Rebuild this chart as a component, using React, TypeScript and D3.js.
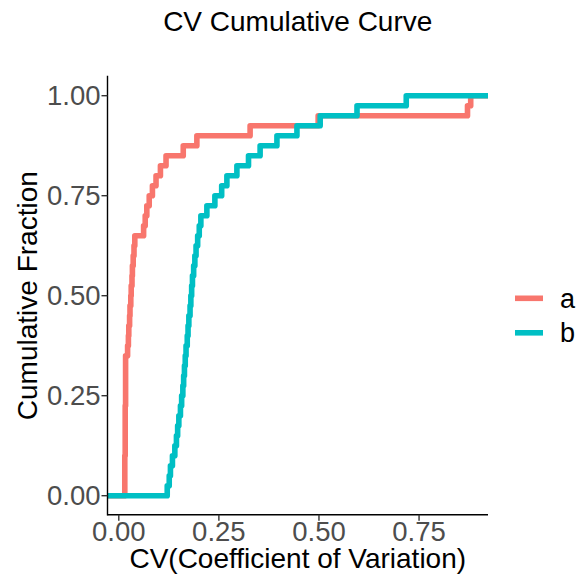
import React from "react";
import * as d3 from "d3";

const seriesNames = ["a", "b"];
const seriesColors = ["#F8766D", "#00BFC4"];

const valuesA = [
  0.015, 0.015, 0.015, 0.015, 0.016, 0.016, 0.016, 0.016, 0.016, 0.017,
  0.017, 0.017, 0.017, 0.017, 0.022, 0.024, 0.025, 0.027, 0.028, 0.03,
  0.031, 0.033, 0.034, 0.036, 0.038, 0.04, 0.062, 0.066, 0.07, 0.076,
  0.084, 0.093, 0.104, 0.118, 0.161, 0.195, 0.328, 0.498, 0.871, 0.879,
];

const valuesB = [
  0.121, 0.126, 0.129, 0.134, 0.14, 0.144, 0.147, 0.15, 0.154, 0.157,
  0.16, 0.162, 0.164, 0.166, 0.168, 0.171, 0.173, 0.175, 0.178, 0.18,
  0.182, 0.184, 0.187, 0.19, 0.193, 0.197, 0.201, 0.205, 0.22, 0.24,
  0.257, 0.27, 0.295, 0.324, 0.353, 0.395, 0.445, 0.503, 0.595, 0.718,
];

const xTicks = [0, 0.25, 0.5, 0.75];
const yTicks = [0, 0.25, 0.5, 0.75, 1];

const W = 580;
const H = 577;
const FONT = "'Liberation Sans', Arial, Helvetica, sans-serif";

export default function App() {
  const panel = { left: 107.5, right: 488, top: 75.7, bottom: 515.7 };
  const all = [...valuesA, ...valuesB];
  const [mn, mx] = d3.extent(all) as [number, number];
  const pad = (mx - mn) * 0.05;
  const x = d3.scaleLinear().domain([mn - pad, mx + pad]).range([panel.left, panel.right]);
  const y = d3.scaleLinear().domain([-0.05, 1.05]).range([panel.bottom, panel.top]);

  const line = d3
    .line<[number, number]>()
    .x((d) => d[0])
    .y((d) => d[1])
    .curve(d3.curveStepAfter);

  const makePath = (vals: number[]) => {
    const s = [...vals].sort((p, q) => p - q);
    const n = s.length;
    const pts: [number, number][] = [[panel.left, y(0)]];
    s.forEach((v, i) => pts.push([x(v), y((i + 1) / n)]));
    pts.push([panel.right, y(1)]);
    return line(pts) || "";
  };

  const series = [valuesA, valuesB];
  const cx = (panel.left + panel.right) / 2;
  const cy = (panel.top + panel.bottom) / 2;

  return (
    <svg width={W} height={H} style={{ display: "block", position: "absolute", left: 0, top: 0 }} fontFamily={FONT}>
      <rect width={W} height={H} fill="#fff" />
      <text x={cx} y={31} textAnchor="middle" fontSize={28} fill="#000">
        CV Cumulative Curve
      </text>
      {series.map((vals, i) => (
        <path
          key={seriesNames[i]}
          d={makePath(vals)}
          fill="none"
          stroke={seriesColors[i]}
          strokeWidth={5.6}
          strokeLinejoin="round"
          strokeLinecap="butt"
        />
      ))}
      {/* axes */}
      <line x1={panel.left} x2={panel.right} y1={panel.bottom - 1} y2={panel.bottom - 1} stroke="#000" strokeWidth={1.4} />
      <line x1={panel.left} x2={panel.left} y1={panel.top} y2={panel.bottom - 0.3} stroke="#000" strokeWidth={1.4} />
      {xTicks.map((t) => (
        <g key={"x" + t}>
          <line x1={x(t)} x2={x(t)} y1={panel.bottom - 1} y2={panel.bottom + 5} stroke="#333" strokeWidth={1.4} />
          <text x={x(t)} y={541} textAnchor="middle" fontSize={27.5} fill="#4D4D4D">
            {t.toFixed(2)}
          </text>
        </g>
      ))}
      {yTicks.map((t) => (
        <g key={"y" + t}>
          <line x1={panel.left - 6} x2={panel.left} y1={y(t)} y2={y(t)} stroke="#333" strokeWidth={1.4} />
          <text x={100.5} y={y(t)} dy="0.35em" textAnchor="end" fontSize={27.5} fill="#4D4D4D">
            {t.toFixed(2)}
          </text>
        </g>
      ))}
      <text x={cx} y={567.5} textAnchor="middle" fontSize={28} fill="#000">
        CV(Coefficient of Variation)
      </text>
      <text
        transform={`translate(37,${cy}) rotate(-90)`}
        textAnchor="middle"
        fontSize={28}
        fill="#000"
      >
        Cumulative Fraction
      </text>
      {/* legend */}
      {seriesNames.map((nm, i) => (
        <g key={"lg" + nm}>
          <line x1={515} x2={543} y1={298.3 + i * 34.5} y2={298.3 + i * 34.5} stroke={seriesColors[i]} strokeWidth={5.6} />
          <text x={560} y={298.3 + i * 34.5} dy="0.35em" fontSize={27} fill="#000">
            {nm}
          </text>
        </g>
      ))}
    </svg>
  );
}
